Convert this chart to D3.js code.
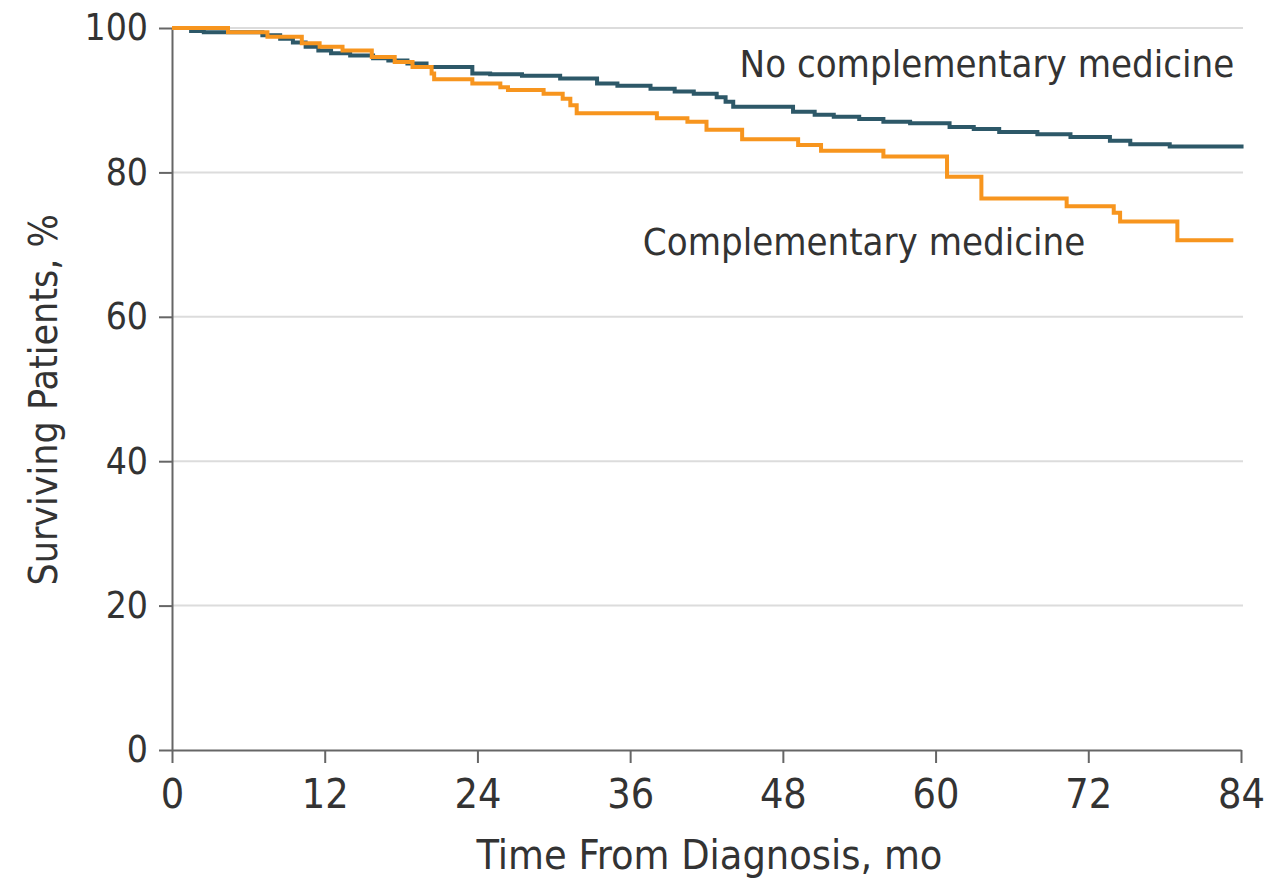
<!DOCTYPE html>
<html>
<head>
<meta charset="utf-8">
<script src="https://cdn.jsdelivr.net/npm/d3@7"></script>
<style>
  body { margin: 0; background: #fff; }
  svg text { font-family: "DejaVu Sans Condensed", "DejaVu Sans", sans-serif; font-stretch: condensed; fill: #333; }
  .axis path, .axis line { stroke: #666; stroke-width: 2; }
  .grid line { stroke: #dcdcdc; stroke-width: 2; }
</style>
</head>
<body>
<svg id="chart" width="1273" height="882"></svg>
<script>
// Kaplan-Meier steps: month of the drop and % surviving after it
const noCmTimes = [0, 1.5, 2.5, 7.1, 8.5, 9.5, 10.5, 11.5, 12.5, 14, 15.8, 17, 18.5, 20,
  23.6, 25, 27.5, 30.5, 33.4, 35, 37.6, 39.5, 41, 42.8, 43.5, 44.1, 48.8, 50.5, 52, 54,
  55.9, 58, 61.1, 63, 65, 68, 70.6, 73.7, 75.3, 78.4, 84.2];
const noCmValues = [100, 99.6, 99.4, 99.0, 98.5, 98.0, 97.4, 96.9, 96.5, 96.2, 95.8, 95.5, 95.1, 94.6,
  93.7, 93.6, 93.4, 93.0, 92.3, 92.0, 91.6, 91.2, 90.9, 90.4, 89.8, 89.1, 88.4, 88.0, 87.7, 87.4,
  87.0, 86.8, 86.3, 86.0, 85.6, 85.3, 84.9, 84.4, 83.9, 83.6, 83.6];

const cmTimes = [0, 4.4, 7.5, 10.2, 11.6, 13.4, 15.7, 17.5, 18.9, 20.4, 20.6, 23.6, 25.8, 26.4,
  29.2, 30.7, 31.3, 31.8, 38.1, 40.5, 42.0, 44.8, 49.2, 51.0, 55.9, 60.9, 63.6, 70.3, 74.0,
  74.5, 79.0, 83.4];
const cmValues = [100, 99.4, 98.8, 97.9, 97.4, 96.9, 96.0, 95.3, 94.6, 93.7, 92.9, 92.3, 91.8, 91.4,
  90.9, 90.2, 89.3, 88.2, 87.5, 87.0, 85.9, 84.6, 83.8, 83.0, 82.2, 79.4, 76.4, 75.3, 74.4,
  73.2, 70.6, 70.6];

const xTicks = [0, 12, 24, 36, 48, 60, 72, 84];
const yTicks = [0, 20, 40, 60, 80, 100];

const seriesNames = ['No complementary medicine', 'Complementary medicine'];
const seriesColors = ['#2d5868', '#f7951e'];

let svg = d3.select('#chart');

let margin = {left: 172, top: 28, right: 32, bottom: 132};
let width = 1273 - margin.left - margin.right;
let height = 882 - margin.top - margin.bottom;

let x = d3.scaleLinear().domain([0, 84]).range([0, width]);
let y = d3.scaleLinear().domain([0, 100]).range([height, 0]);

let root = svg.append('g')
  .attr('transform', 'translate(' + margin.left + ',' + margin.top + ')');

// light horizontal gridlines behind everything
root.append('g')
  .attr('class', 'grid')
  .selectAll('line').data(yTicks.filter(function(d) { return d > 0; })).enter()
  .append('line')
    .attr('x1', 0)
    .attr('x2', width + 2)
    .attr('y1', function(d) { return y(d); })
    .attr('y2', function(d) { return y(d); });

let xAxis = root.append('g')
  .attr('class', 'axis')
  .attr('transform', 'translate(0,' + height + ')')
  .call(d3.axisBottom(x).tickValues(xTicks).tickSize(13).tickSizeOuter(0).tickPadding(16));
xAxis.selectAll('text').style('font-size', '41px');

let yAxis = root.append('g')
  .attr('class', 'axis')
  .call(d3.axisLeft(y).tickValues(yTicks).tickSize(13).tickSizeOuter(0).tickPadding(11));
yAxis.selectAll('text').style('font-size', '37px');

// step lines, complementary medicine drawn last so it sits on top
let line = d3.line()
  .x(function(d) { return x(d[0]); })
  .y(function(d) { return y(d[1]); })
  .curve(d3.curveStepAfter);

let series = [d3.zip(noCmTimes, noCmValues), d3.zip(cmTimes, cmValues)];

root.selectAll('.km').data(series).enter()
  .append('path')
    .attr('class', 'km')
    .attr('fill', 'none')
    .attr('stroke', function(d, i) { return seriesColors[i]; })
    .attr('stroke-width', 4)
    .attr('d', line);

// curve labels
root.append('text')
  .attr('x', x(44.6))
  .attr('y', y(93.2))
  .style('font-size', '38px')
  .text(seriesNames[0]);

root.append('text')
  .attr('x', x(37.0))
  .attr('y', y(68.6))
  .style('font-size', '38px')
  .text(seriesNames[1]);

// axis titles
svg.append('text')
  .attr('text-anchor', 'middle')
  .attr('x', margin.left + x(42) + 3)
  .attr('y', 869)
  .style('font-size', '41px')
  .text('Time From Diagnosis, mo');

svg.append('text')
  .attr('text-anchor', 'middle')
  .attr('transform', 'translate(57,' + (margin.top + y(48.5)) + ') rotate(-90)')
  .style('font-size', '39px')
  .text('Surviving Patients, %');
</script>
</body>
</html>
